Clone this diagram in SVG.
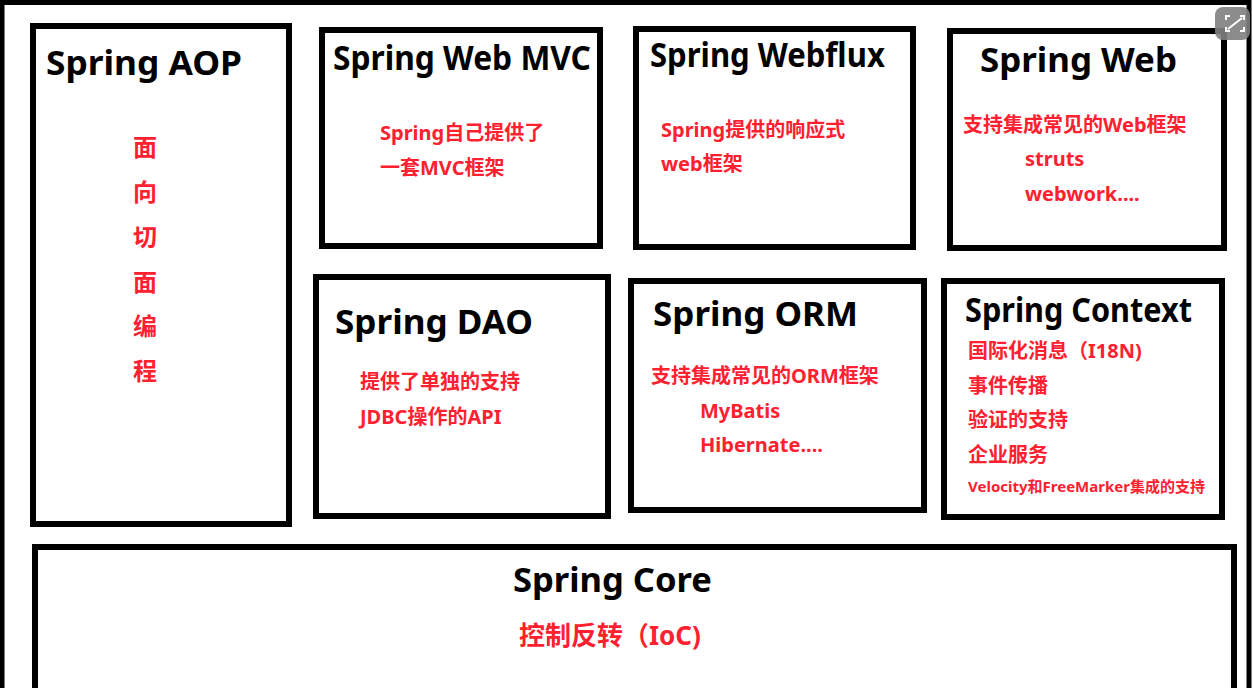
<svg xmlns="http://www.w3.org/2000/svg" width="1253" height="688" viewBox="0 0 1253 688">
<style>
.box{fill:#fff;stroke:#000;stroke-width:6}
.t{font-family:"Noto Sans","Noto Sans CJK SC",sans-serif;font-weight:bold;font-size:34px;fill:#000}
.r{font-family:"Noto Sans","Noto Sans CJK SC",sans-serif;font-weight:bold;font-size:20px;fill:#ff2030}
.v{font-family:"Noto Sans CJK SC",sans-serif;font-weight:bold;font-size:24px;fill:#ff2030;text-anchor:middle}
</style>
<rect x="0" y="0" width="1253" height="688" fill="#fff"/>
<rect x="2" y="2.5" width="1247" height="720" fill="none" stroke="#000" stroke-width="5"/>
<g id="aop">
<rect class="box" x="33" y="26" width="256" height="498"/>
<text class="t" x="46" y="75" textLength="196" lengthAdjust="spacingAndGlyphs">Spring AOP</text>
<text class="v" x="145" y="156">面</text>
<text class="v" x="145" y="201">向</text>
<text class="v" x="145" y="246">切</text>
<text class="v" x="145" y="291">面</text>
<text class="v" x="145" y="335">编</text>
<text class="v" x="145" y="380">程</text>
</g>
<g id="webmvc">
<rect class="box" x="322" y="30" width="278" height="216"/>
<text class="t" x="333" y="70" textLength="258" lengthAdjust="spacingAndGlyphs">Spring Web MVC</text>
<text class="r" x="380" y="140">Spring自己提供了</text>
<text class="r" x="380" y="175">一套MVC框架</text>
</g>
<g id="webflux">
<rect class="box" x="636" y="29" width="277" height="218"/>
<text class="t" x="650" y="67" textLength="235" lengthAdjust="spacingAndGlyphs">Spring Webflux</text>
<text class="r" x="661" y="137">Spring提供的响应式</text>
<text class="r" x="661" y="171">web框架</text>
</g>
<g id="web">
<rect class="box" x="950" y="31" width="274" height="217"/>
<text class="t" x="980" y="72" textLength="197" lengthAdjust="spacingAndGlyphs">Spring Web</text>
<text class="r" x="963" y="132">支持集成常见的Web框架</text>
<text class="r" x="1025" y="166">struts</text>
<text class="r" x="1025" y="201">webwork....</text>
</g>
<g id="dao">
<rect class="box" x="316" y="277" width="292" height="239"/>
<text class="t" x="335" y="334" textLength="198" lengthAdjust="spacingAndGlyphs">Spring DAO</text>
<text class="r" x="360" y="389">提供了单独的支持</text>
<text class="r" x="360" y="424">JDBC操作的API</text>
</g>
<g id="orm">
<rect class="box" x="631" y="281" width="293" height="229"/>
<text class="t" x="653" y="326" textLength="205" lengthAdjust="spacingAndGlyphs">Spring ORM</text>
<text class="r" x="651" y="383">支持集成常见的ORM框架</text>
<text class="r" x="700" y="418">MyBatis</text>
<text class="r" x="700" y="452">Hibernate....</text>
</g>
<g id="context">
<rect class="box" x="944" y="281" width="278" height="236"/>
<text class="t" x="965" y="322" textLength="227" lengthAdjust="spacingAndGlyphs">Spring Context</text>
<text class="r" x="968" y="358">国际化消息（I18N)</text>
<text class="r" x="968" y="393">事件传播</text>
<text class="r" x="968" y="427">验证的支持</text>
<text class="r" x="968" y="462">企业服务</text>
<text class="r" x="968" y="492" style="font-size:15px">Velocity和FreeMarker集成的支持</text>
</g>
<g id="core">
<rect class="box" x="35" y="547" width="1199" height="200"/>
<text class="t" x="513" y="592" textLength="199" lengthAdjust="spacingAndGlyphs">Spring Core</text>
<text class="r" x="519" y="645" style="font-size:26px">控制反转（IoC)</text>
</g>
<g id="connectors"></g>
<g id="icon">
<rect x="1215" y="7" width="35" height="33" rx="8" fill="#7f7f7f" fill-opacity="0.9"/>
<path d="M1226 20v-4h4M1240 16h4v4M1244 27v4h-4M1230 31h-4v-4M1228 29l14-11" fill="none" stroke="#fff" stroke-width="2"/>
</g>
</svg>
